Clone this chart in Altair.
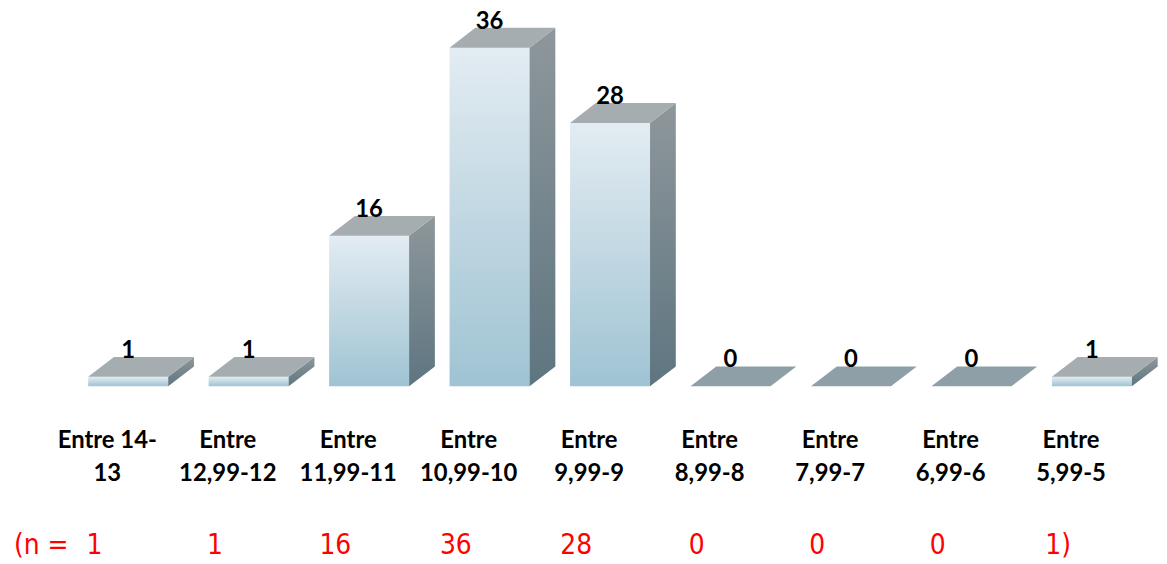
import altair as alt
import pandas as pd

# ---- data ----
categories = ["Entre 14-\n13", "Entre\n12,99-12", "Entre\n11,99-11", "Entre\n10,99-10",
              "Entre\n9,99-9", "Entre\n8,99-8", "Entre\n7,99-7", "Entre\n6,99-6", "Entre\n5,99-5"]
values = [1, 1, 16, 36, 28, 0, 0, 0, 1]
n_labels = ["1", "1", "16", "36", "28", "0", "0", "0", "1)"]

# ---- 3D look (style constants, in data units of the scales) ----
HW = 0.332      # half width of the front face (x units)
DX = 0.214      # depth offset along x (x units)
DY = 2.11       # depth offset along y (y units)

idx = list(range(len(values)))
front = pd.DataFrame({"i": idx, "x0": [i - HW for i in idx], "x1": [i + HW for i in idx],
                      "v": values, "cat": categories, "n": n_labels})

side_rows, top_rows = [], []
for i, v in zip(idx, values):
    side_rows.append({"g": i, "x": i + HW, "yt": v, "yb": 0})
    side_rows.append({"g": i, "x": i + HW + DX, "yt": v + DY, "yb": DY})
    top_rows.append({"g": i, "y": v, "xl": i - HW, "xr": i + HW, "zero": v == 0})
    top_rows.append({"g": i, "y": v + DY, "xl": i - HW + DX, "xr": i + HW + DX, "zero": v == 0})
side = pd.DataFrame(side_rows)
top = pd.DataFrame(top_rows)

xs = alt.Scale(domain=[-0.9975, 8.557], nice=False, zero=False)
ys = alt.Scale(domain=[-18.69, 40.01], nice=False, zero=False)

front_grad = alt.Gradient(gradient="linear", x1=0, x2=0, y1=0, y2=1,
                          stops=[alt.GradientStop(color="#e3ecf2", offset=0),
                                 alt.GradientStop(color="#9fc3d3", offset=1)])
side_grad = alt.Gradient(gradient="linear", x1=0, x2=0, y1=0, y2=1,
                         stops=[alt.GradientStop(color="#8e979b", offset=0),
                                alt.GradientStop(color="#5e7580", offset=1)])

front_layer = alt.Chart(front).mark_bar(color=front_grad, strokeWidth=0).encode(
    x=alt.X("x0:Q", scale=xs, axis=None), x2="x1:Q",
    y=alt.Y("v:Q", scale=ys, axis=None, stack=None), y2=alt.datum(0))

side_layer = alt.Chart(side).mark_area(color=side_grad, orient="vertical").encode(
    x=alt.X("x:Q", scale=xs, axis=None),
    y=alt.Y("yt:Q", scale=ys, axis=None, stack=None), y2="yb:Q",
    detail="g:N")

top_layer = alt.Chart(top).mark_area(orient="horizontal").encode(
    y=alt.Y("y:Q", scale=ys, axis=None, stack=None),
    x=alt.X("xl:Q", scale=xs, axis=None), x2="xr:Q",
    detail="g:N",
    color=alt.condition(alt.datum.zero, alt.value("#8e9fa7"), alt.value("#a5adb1")))

value_text = alt.Chart(front).mark_text(font="Lato", fontWeight="bold", fontSize=24,
                                        baseline="alphabetic", align="center", dy=-19,
                                        color="#000000").encode(
    x=alt.X("i:Q", scale=xs, axis=None), y=alt.Y("v:Q", scale=ys, axis=None),
    text="v:Q")

cat_text = alt.Chart(front).mark_text(font="Lato", fontWeight="bold", fontSize=24,
                                      baseline="alphabetic", align="center", dx=-21,
                                      lineBreak="\n", lineHeight=33, color="#000000").encode(
    x=alt.X("i:Q", scale=xs, axis=None), y=alt.value(441), text="cat:N")

RED_FONT = "Liberation Sans Narrow, Arial Narrow, DejaVu Sans Condensed, Roboto, sans-serif"

n_text = alt.Chart(front).mark_text(font=RED_FONT, fontSize=28,
                                    baseline="alphabetic", align="center", dx=-34,
                                    color="#ff0000").encode(
    x=alt.X("i:Q", scale=xs, axis=None), y=alt.value(548), text="n:N")

n_prefix = alt.Chart(pd.DataFrame({"t": ["(n ="]})).mark_text(
    font=RED_FONT, fontSize=28, baseline="alphabetic", align="left",
    color="#ff0000").encode(x=alt.value(6), y=alt.value(548), text="t:N")

chart = alt.layer(front_layer, side_layer, top_layer, value_text, cat_text, n_text, n_prefix).properties(
    width=1159, height=556, padding=0,
    autosize=alt.AutoSizeParams(type="none"),
).configure(background="#ffffff").configure_view(stroke=None, strokeWidth=0)

chart.save("out.html", embed_options={"renderer": "svg", "actions": False})
